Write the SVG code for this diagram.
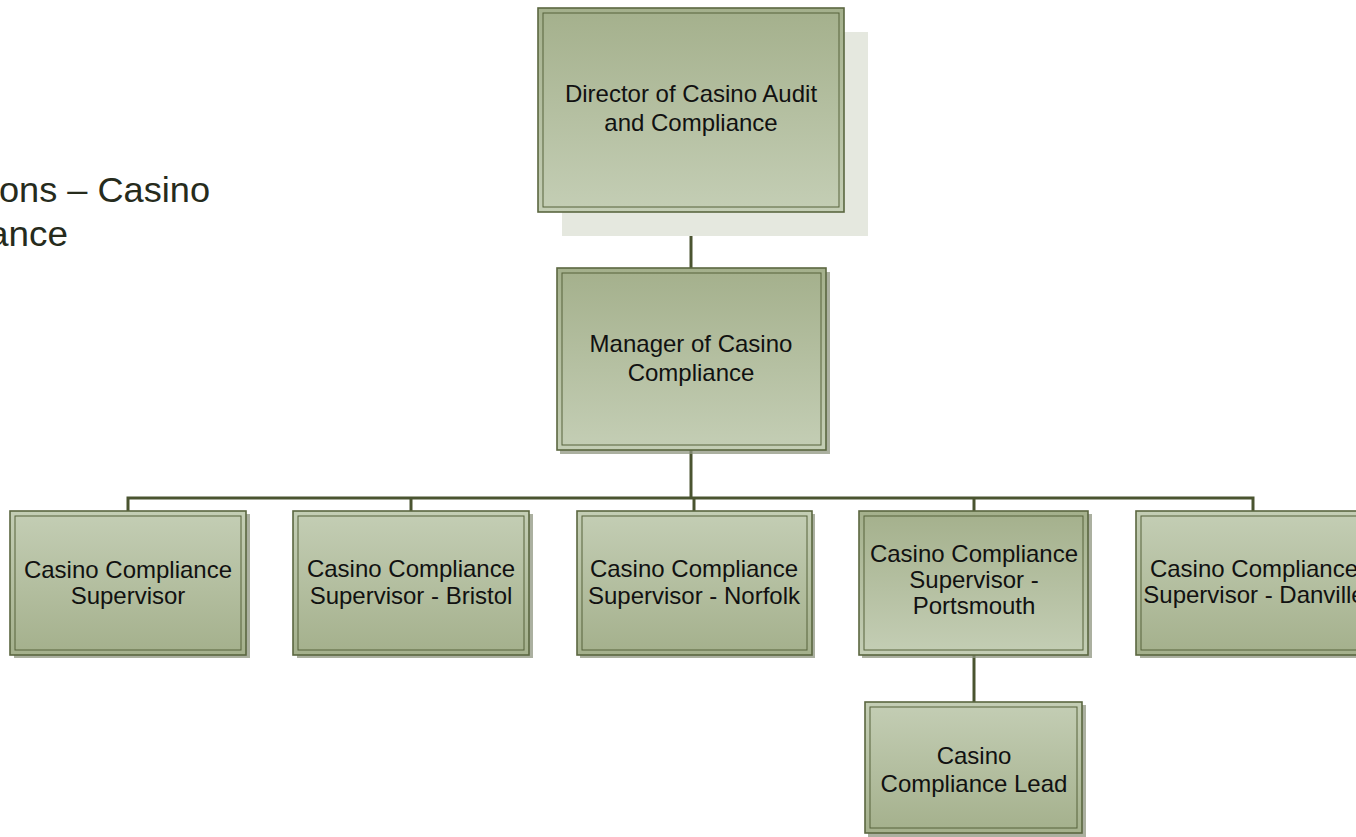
<svg xmlns="http://www.w3.org/2000/svg" width="1356" height="837" viewBox="0 0 1356 837">
<style>
.t{font-family:"Liberation Sans",Arial,sans-serif;font-size:24px;fill:#111;text-anchor:middle}
.title{font-family:"Liberation Sans",Arial,sans-serif;font-size:35px;fill:#262b1c}
.outer{stroke:#5b6740;stroke-width:1.6}
.inner{fill:none;stroke:#56623b;stroke-width:1}
.sh{fill:#8f9680;opacity:0.75}
.conn{stroke:#4a5430;stroke-width:3;fill:none}
</style>
<defs>
<linearGradient id="gDown" x1="0" y1="0" x2="0" y2="1">
<stop offset="0" stop-color="#a4b08c"/><stop offset="1" stop-color="#c4ceb5"/>
</linearGradient>
<linearGradient id="gUp" x1="0" y1="0" x2="0" y2="1">
<stop offset="0" stop-color="#c4ceb5"/><stop offset="1" stop-color="#a4b08c"/>
</linearGradient>
</defs>
<rect width="1356" height="837" fill="#fff"/>
<g id="title">
<text class="title" x="-1" y="202" textLength="211" lengthAdjust="spacingAndGlyphs">ons – Casino</text>
<text class="title" x="-12" y="246" textLength="80" lengthAdjust="spacingAndGlyphs">ance</text>
</g>
<g id="connectors">
<line class="conn" x1="691" y1="212" x2="691" y2="268"/>
<line class="conn" x1="691" y1="450" x2="691" y2="498"/>
<polyline class="conn" points="128,511 128,498 1253,498 1253,511"/>
<line class="conn" x1="411" y1="498" x2="411" y2="511"/>
<line class="conn" x1="694" y1="498" x2="694" y2="511"/>
<line class="conn" x1="974" y1="498" x2="974" y2="511"/>
<line class="conn" x1="974" y1="655" x2="974" y2="702"/>
</g>
<g id="director">
<rect x="562" y="32" width="306" height="204" fill="#e5e8df"/>
<rect class="outer" x="538" y="8" width="306" height="204" fill="url(#gDown)"/>
<rect class="inner" x="543" y="13" width="296" height="194"/>
<text class="t" x="691" y="102">Director of Casino Audit</text>
<text class="t" x="691" y="131">and Compliance</text>
</g>
<g id="manager">
<rect class="sh" x="560" y="272" width="270" height="182"/>
<rect class="outer" x="557" y="268" width="269" height="182" fill="url(#gDown)"/>
<rect class="inner" x="562" y="273" width="259" height="172"/>
<text class="t" x="691" y="352">Manager of Casino</text>
<text class="t" x="691" y="381">Compliance</text>
</g>
<g id="sup1">
<rect class="sh" x="14" y="514" width="236" height="144"/>
<rect class="outer" x="10" y="511" width="236" height="144" fill="url(#gUp)"/>
<rect class="inner" x="15" y="516" width="226" height="134"/>
<text class="t" x="128" y="578">Casino Compliance</text>
<text class="t" x="128" y="604">Supervisor</text>
</g>
<g id="bristol">
<rect class="sh" x="297" y="514" width="236" height="144"/>
<rect class="outer" x="293" y="511" width="236" height="144" fill="url(#gUp)"/>
<rect class="inner" x="298" y="516" width="226" height="134"/>
<text class="t" x="411" y="577">Casino Compliance</text>
<text class="t" x="411" y="604">Supervisor - Bristol</text>
</g>
<g id="norfolk">
<rect class="sh" x="580" y="514" width="235" height="144"/>
<rect class="outer" x="577" y="511" width="235" height="144" fill="url(#gUp)"/>
<rect class="inner" x="582" y="516" width="225" height="134"/>
<text class="t" x="694" y="577">Casino Compliance</text>
<text class="t" x="694" y="604">Supervisor - Norfolk</text>
</g>
<g id="portsmouth">
<rect class="sh" x="862" y="514" width="230" height="144"/>
<rect class="outer" x="859" y="511" width="229" height="144" fill="url(#gDown)"/>
<rect class="inner" x="864" y="516" width="219" height="134"/>
<text class="t" x="974" y="562">Casino Compliance</text>
<text class="t" x="974" y="588">Supervisor -</text>
<text class="t" x="974" y="614">Portsmouth</text>
</g>
<g id="danville">
<rect class="sh" x="1140" y="514" width="236" height="144"/>
<rect class="outer" x="1136" y="511" width="236" height="144" fill="url(#gUp)"/>
<rect class="inner" x="1141" y="516" width="226" height="134"/>
<text class="t" x="1254" y="577">Casino Compliance</text>
<text class="t" x="1254" y="603">Supervisor - Danville</text>
</g>
<g id="lead">
<rect class="sh" x="868" y="705" width="218" height="132"/>
<rect class="outer" x="865" y="702" width="217" height="131" fill="url(#gUp)"/>
<rect class="inner" x="870" y="707" width="207" height="121"/>
<text class="t" x="974" y="764">Casino</text>
<text class="t" x="974" y="792">Compliance Lead</text>
</g>
</svg>
